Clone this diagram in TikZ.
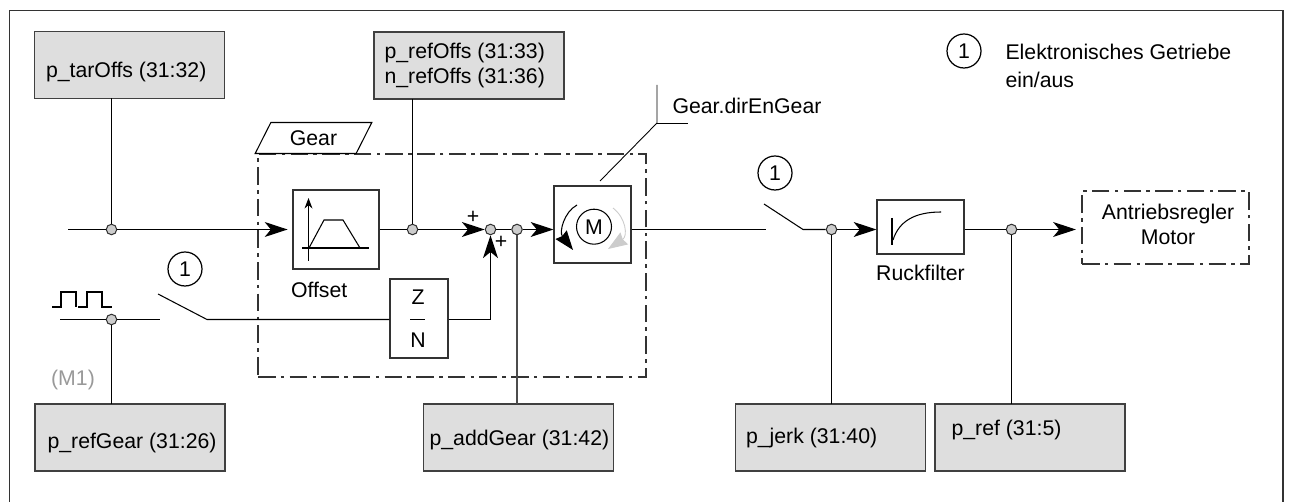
\documentclass[tikz,border=0pt]{standalone}
\usepackage{fontspec}
\setmainfont{Liberation Sans}
\usetikzlibrary{arrows.meta,positioning,shapes.geometric}

\begin{document}
\begin{tikzpicture}[
    x=0.02cm, y=-0.02cm,
    font=\fontsize{12.1}{14}\selectfont,
    line width=0.6pt,
    parambox/.style={
        draw=black!75, fill=black!13, line width=0.8pt,
        minimum width=3.8cm, minimum height=1.34cm,
        inner sep=0pt, outer sep=0pt
    },
    boxtext/.style={
        inner sep=0pt, align=left
    },
    funcbox/.style={
        draw=black!80, fill=white, line width=0.9pt,
        inner sep=0pt, outer sep=0.3pt
    },
    groupbox/.style={
        draw=black!80, line width=0.9pt,
        dash pattern=on 10pt off 3pt on 2pt off 3pt,
        inner sep=0pt
    },
    junction/.style={
        circle, draw=black!80, fill=black!20, line width=0.6pt,
        minimum size=0.21cm, inner sep=0pt
    },
    marker/.style={
        circle, draw=black, line width=0.7pt,
        minimum size=0.68cm, inner sep=0pt
    },
    sigflow/.style={
        -{Stealth[length=13pt, width=8.5pt, inset=3.5pt]}
    },
    rotflow/.style={
        -{Stealth[length=11pt, width=8pt, inset=1pt]}
    },
    plainlabel/.style={
        inner sep=0pt
    },
]

% ── Frame, open at the bottom ──
\path[use as bounding box] (0,0) rectangle (1290,502);
\draw[draw=black!80, line width=0.8pt] (9.5,502) -- (9.5,10.5) -- (1283,10.5) -- (1283,502);

% ── Gear group ──
\node[groupbox, minimum width=7.76cm, minimum height=4.46cm] (gearGroup) at (452,265.5) {};
\node[trapezium, trapezium left angle=60, trapezium right angle=120, draw=black, fill=white,
      minimum width=2.34cm, minimum height=0.62cm, inner sep=0pt,
      trapezium stretches=true] (gearTag) at (313.5,138) {Gear\hspace{0.16cm}};

% ── Function blocks ──
\node[funcbox, minimum width=1.72cm, minimum height=1.58cm] (offsetBox) at (336,229.5) {};
\node[plainlabel, below=0.24cm of offsetBox.south west, anchor=north west, xshift=-0.04cm] (offsetText) {Offset};
\node[funcbox, minimum width=1.16cm, minimum height=1.58cm] (ratioBox) at (419,318.5) {};
\node[plainlabel] at (418,297) (ratioZ) {Z};
\node[plainlabel] at (418,340) (ratioN) {N};
\node[funcbox, minimum width=1.54cm, minimum height=1.54cm] (motorBox) at (592.5,224.5) {};
\node[circle, draw=black, minimum size=0.7cm, inner sep=0pt] (motorM) at (594,226.7) {M};
\node[funcbox, minimum width=1.74cm, minimum height=1.08cm] (ruckBox) at (920.5,227) {};
\node[plainlabel, below=0.2cm of ruckBox] (ruckText) {Ruckfilter};
\node[groupbox, minimum width=3.34cm, minimum height=1.46cm] (driveBox) at (1165.5,227.5) {};
\node[plainlabel, align=center] (driveText) at (1168,224.5) {Antriebsregler\\Motor};

% ── Parameter boxes ──
\node[parambox] (tarOffs) at (129.5,65) {};
\node[boxtext, right=0.22cm of tarOffs.west, yshift=-0.14cm] (tarOffsText) {p\_tarOffs (31:32)};
\node[parambox] (refOffs) at (469,65.5) {};
\node[boxtext, right=0.2cm of refOffs.west] (refOffsText) {p\_refOffs (31:33)\\n\_refOffs (31:36)};
\node[parambox] (refGear) at (130,437.5) {};
\node[boxtext, right=0.24cm of refGear.west, yshift=-0.12cm] (refGearText) {p\_refGear (31:26)};
\node[parambox] (addGear) at (518.5,437.5) {};
\node[boxtext, right=0.11cm of addGear.west, yshift=-0.06cm] (addGearText) {p\_addGear (31:42)};
\node[parambox] (jerk) at (830.5,437.5) {};
\node[boxtext, right=0.2cm of jerk.west, yshift=-0.02cm] (jerkText) {p\_jerk (31:40)};
\node[parambox] (ref) at (1030,437.5) {};
\node[boxtext, right=0.32cm of ref.west, yshift=0.14cm] (refText) {p\_ref (31:5)};

% ── Junctions ──
\node[junction] (tarJunc) at (111.5,229.5) {};
\node[junction] (pulseJunc) at (111.5,319.5) {};
\node[junction] (refJunc) at (412.5,229.5) {};
\node[junction] (sumJunc) at (490.5,229.5) {};
\node[junction] (addJunc) at (517,229.5) {};
\node[junction] (jerkJunc) at (831.5,229.5) {};
\node[junction] (outJunc) at (1011.5,229.5) {};

\coordinate (inStart) at (68,229.5);
\coordinate (pulseStart) at (60,319.5);
\coordinate (pulseEnd) at (160,319.5);
\coordinate (gearClosed) at (207,319.5);
\coordinate (gearOpen) at (158,294);
\coordinate (ratioCorner) at (490.5,319.5);
\coordinate (motorEnd) at (766,229.5);
\coordinate (ruckClosed) at (803,229.5);
\coordinate (ruckOpen) at (764,204);
\coordinate (dirKnee) at (657,123);
\coordinate (dirTop) at (657,85);
\coordinate (dirEnd) at (600,181);

% ── Signal flow ──
\draw (inStart) -- (tarJunc);
\draw[sigflow, shorten >=2.8pt] (tarJunc) -- (offsetBox);
\draw (offsetBox) -- (refJunc);
\draw[sigflow] (refJunc) -- (sumJunc);
\draw (sumJunc) -- (addJunc);
\draw[sigflow] (addJunc) -- (motorBox.west |- addJunc);
\draw (motorBox.east |- motorEnd) -- (motorEnd);
\draw (ruckOpen) -- (ruckClosed) -- (jerkJunc);
\draw[sigflow] (jerkJunc) -- (ruckBox.west |- jerkJunc);
\draw (ruckBox.east |- outJunc) -- (outJunc);
\draw[sigflow, shorten >=3pt] (outJunc) -- (driveBox.west |- outJunc);

% ── Pulse input with switch ──
\draw (pulseStart) -- (pulseJunc) -- (pulseEnd);
\draw (gearOpen) -- (gearClosed) -- (ratioBox.west |- gearClosed);
\draw (ratioBox.east |- ratioCorner) -- (ratioCorner);
\draw[sigflow] (ratioCorner) -- (sumJunc);
\draw (410,319.5) -- (425,319.5);
\draw (52,307) -- (61,307) -- (61,292) -- (76,292) -- (76,307);
\draw (78,307) -- (87,307) -- (87,292) -- (102,292) -- (102,307) -- (112,307);

% ── Parameter lines ──
\draw (tarOffs.south -| tarJunc) -- (tarJunc);
\draw (refOffs.south -| refJunc) -- (refJunc);
\draw (pulseJunc) -- (refGear.north -| pulseJunc);
\draw[draw=black!70, line width=0.9pt] (addJunc) -- (addGear.north -| addJunc);
\draw (jerkJunc) -- (jerk.north -| jerkJunc);
\draw (outJunc) -- (ref.north -| outJunc);

% ── Direction input ──
\draw[line width=0.5pt] (dirTop) -- (dirKnee) -- (dirEnd);
\draw[line width=0.5pt] (dirKnee) -- (688,123);
\node[plainlabel, anchor=west] (dirText) at (672,106) {Gear.dirEnGear};

% ── Block icons ──
\draw[-{Stealth[length=6pt, width=4.5pt]}] (308.5,261) -- (308.5,198);
\draw (302,248) -- (369,248);
\draw (309,248) -- (324,220) -- (343,220) -- (360,248);
\draw (892,218) -- (892,245);
\draw (893,240) .. controls (899,221) and (915,212) .. (941,212);
\draw[rotflow] (577,205) .. controls (564,212) and (559,232) .. (573,250);
\draw[rotflow, draw=black!20, line width=0.5pt]
    (613,208) .. controls (626,218) and (628,236) .. (608,249);

% ── Markers and small labels ──
\node[marker] (switchMarkA) at (185,269) {1};
\node[marker] (switchMarkB) at (775,173) {1};
\node[marker] (legendMark) at (964,51) {1};
\node[boxtext, anchor=west] (legendText) at (1005,66) {Elektronisches Getriebe\\[2pt]ein/aus};
\node[plainlabel, text=black!40] (m1Text) at (73,380) {(M1)};
\node[plainlabel] (plusA) at (473,217) {+};
\node[plainlabel] (plusB) at (501,242) {+};

\end{tikzpicture}
\end{document}
